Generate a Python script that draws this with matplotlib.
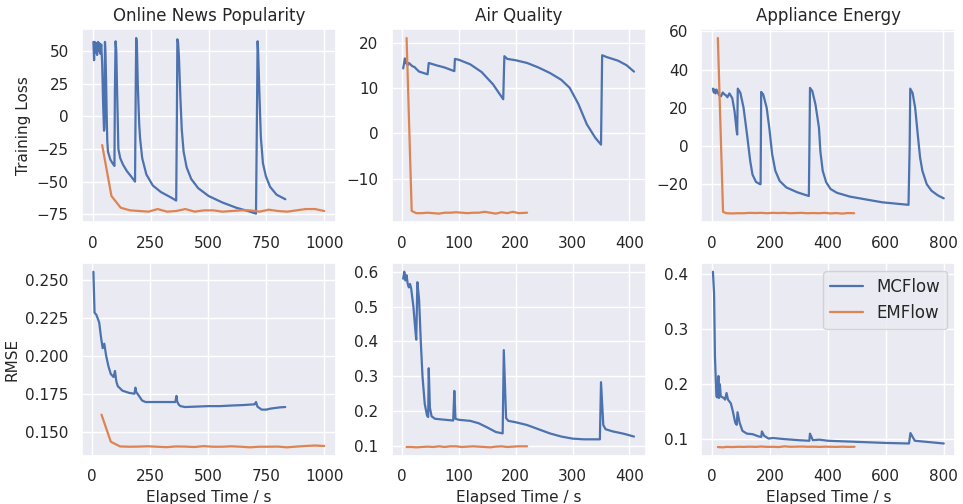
import matplotlib
matplotlib.use("Agg")
import matplotlib.pyplot as plt
import seaborn as sns

datasets = ["Online News Popularity", "Air Quality", "Appliance Energy"]
methods = ["MCFlow", "EMFlow"]

# ---- Online News Popularity ----
news_loss_mc_t = [2, 5, 8, 12, 15, 18, 22, 25, 28, 32, 36, 40, 44, 48, 50, 52, 54, 57, 59.5, 62, 65, 75,
                  85, 93, 95, 98, 101, 105, 110, 118, 130, 147, 165, 182, 185, 187, 190, 194, 200, 204,
                  213, 231, 259, 294, 336, 360, 363, 365, 368, 372, 378, 384, 392, 405, 425, 455, 500,
                  560, 620, 670, 705, 708, 712, 714, 720, 726, 735, 748, 766, 794, 832]
news_loss_mc_y = [57, 43, 57, 49, 56, 47, 57, 50, 56, 48, 55, 40, 10, -11, -8, 57, 50, 27, 1, -19, -27,
                  -33, -36, -38, 20, 57.5, 50, 15, -25, -32, -37, -42, -46, -50, 20, 60, 56, 24, -6, -17,
                  -32, -44.5, -53, -58, -62, -64.5, 0, 59, 57, 45, 15, -10, -27, -39, -48, -55, -61,
                  -66, -70, -72.5, -74.5, -20, 57.5, 51, 16, -16, -36, -46, -54, -60, -63.5]
news_loss_em_t = [40, 80, 120, 160, 200, 240, 280, 320, 360, 400, 440, 480, 520, 560, 600, 640, 680, 720,
                  760, 800, 840, 880, 920, 960, 1000]
news_loss_em_y = [-22, -61, -70, -72, -72.5, -73, -71, -73, -72.5, -71, -73, -72, -72, -73, -72.5, -72,
                  -72, -73, -71.5, -72.5, -73, -72, -71, -71, -72.5]

news_rmse_mc_t = [5, 10, 18, 30, 38, 45, 52, 60, 70, 80, 92, 98, 104, 110, 130, 160, 182, 186, 190, 195,
                  215, 230, 260, 300, 340, 358, 363, 366, 372, 380, 400, 450, 500, 550, 600, 650, 700,
                  706, 712, 730, 750, 770, 790, 810, 832]
news_rmse_mc_y = [0.2555, 0.2285, 0.227, 0.222, 0.212, 0.205, 0.208, 0.200, 0.193, 0.188, 0.186, 0.190,
                  0.183, 0.180, 0.177, 0.1755, 0.175, 0.179, 0.176, 0.175, 0.1705, 0.1695, 0.1695, 0.1695,
                  0.1695, 0.1695, 0.1735, 0.170, 0.168, 0.1668, 0.1662, 0.1665, 0.1668, 0.1668, 0.1672,
                  0.1675, 0.1680, 0.1695, 0.1665, 0.1645, 0.1645, 0.1652, 0.1656, 0.1660, 0.1662]
news_rmse_em_t = news_loss_em_t
news_rmse_em_y = [0.1612, 0.1433, 0.1402, 0.1400, 0.1401, 0.1403, 0.1400, 0.1397, 0.1402, 0.1401, 0.1398,
                  0.1404, 0.1400, 0.1400, 0.1403, 0.1400, 0.1396, 0.1400, 0.1400, 0.1401, 0.1396, 0.1401,
                  0.1405, 0.1408, 0.1405]

# ---- Air Quality ----
air_loss_mc_t = [2, 5, 7, 10, 12, 18, 22, 25, 30, 40, 45, 47, 60, 75, 92, 93, 100, 120, 140, 160, 178,
                 180, 185, 200, 220, 240, 260, 280, 295, 310, 325, 340, 350, 352, 360, 380, 395, 408]
air_loss_mc_y = [14.3, 16.5, 15.5, 15.0, 15.5, 14.8, 14.6, 14.2, 13.6, 13.2, 13.0, 15.5, 15.0, 14.5, 13.7,
                 16.4, 16.2, 15.2, 13.5, 10.8, 7.5, 17.0, 16.4, 16.1, 15.5, 14.5, 13.3, 11.8, 10.0, 6.5,
                 2.0, -1.0, -2.5, 17.2, 16.8, 16.0, 15.0, 13.6]
air_loss_em_t = [8, 17, 25, 35, 45, 55, 65, 75, 85, 95, 105, 115, 125, 135, 145, 155, 165, 175, 185, 195,
                 205, 220]
air_loss_em_y = [21.0, -17.1, -17.6, -17.6, -17.5, -17.6, -17.7, -17.5, -17.5, -17.4, -17.5, -17.6, -17.5,
                 -17.5, -17.3, -17.5, -17.7, -17.4, -17.6, -17.3, -17.6, -17.5]

air_rmse_mc_t = [2, 4, 6, 8, 10, 12, 14, 16, 20, 23, 25, 27, 30, 33, 36, 40, 44, 46, 47, 49, 52, 58, 70,
                 90, 92, 94, 100, 120, 135, 150, 165, 177, 179, 183, 187, 200, 220, 240, 260, 280, 300,
                 320, 348, 350, 354, 358, 370, 390, 408]
air_rmse_mc_y = [0.58, 0.60, 0.575, 0.59, 0.565, 0.555, 0.565, 0.553, 0.50, 0.44, 0.405, 0.57, 0.52, 0.40,
                 0.30, 0.22, 0.187, 0.183, 0.323, 0.21, 0.185, 0.178, 0.176, 0.173, 0.258, 0.178, 0.175,
                 0.172, 0.165, 0.153, 0.140, 0.136, 0.375, 0.18, 0.172, 0.168, 0.160, 0.148, 0.136, 0.127,
                 0.121, 0.119, 0.119, 0.283, 0.160, 0.148, 0.142, 0.135, 0.127]
air_rmse_em_t = air_loss_em_t
air_rmse_em_y = [0.097, 0.097, 0.096, 0.097, 0.098, 0.097, 0.099, 0.097, 0.099, 0.099, 0.097, 0.098, 0.099,
                 0.098, 0.097, 0.096, 0.098, 0.099, 0.097, 0.098, 0.099, 0.099]

# ---- Appliance Energy ----
app_loss_mc_t = [3, 6, 8.5, 12, 15, 20, 25, 31, 37, 43, 48, 53, 60, 70, 78, 85, 87, 89, 98, 109, 121,
                 132, 140, 152, 166, 168, 170, 177, 189, 198, 208, 219, 234, 257, 296, 335, 337, 339, 347,
                 358, 370, 375, 383, 395, 410, 432, 477, 533, 590, 680, 684, 686, 694, 703, 712, 720,
                 728, 743, 760, 783, 802]
app_loss_mc_y = [30, 28, 29.5, 27.5, 29.5, 28, 26.5, 26, 28, 27, 26.5, 25.5, 27.5, 25, 18, 8, 6, 30, 27.8,
                 20, 6, -7.8, -15, -18.8, -20, -20, 28.3, 27, 20, 9.6, -4.3, -13, -18.3, -21.7, -24.3,
                 -26.2, 0, 30.4, 28.7, 21.7, 9.6, -3, -13, -19, -22.5, -24.5, -26.5, -28, -29.5, -30.8,
                 0, 30, 27.8, 20, 6, -6, -13, -20, -23.5, -26, -27.4]
app_loss_em_t = [20, 38, 50, 70, 90, 110, 130, 150, 170, 190, 210, 230, 250, 270, 290, 310, 330, 350,
                 370, 390, 410, 430, 450, 470, 492]
app_loss_em_y = [56.5, -34.5, -35.2, -35.3, -35.2, -35.2, -35.0, -35.1, -35.0, -35.2, -35.0, -35.1, -35.0,
                 -35.2, -35.1, -35.0, -35.2, -35.1, -35.2, -35.0, -35.3, -35.1, -35.4, -35.1, -35.2]

app_rmse_mc_t = [3, 7, 10, 15, 18, 22, 24, 27, 30, 40, 45, 50, 55, 65, 72, 80, 85, 88, 95, 105, 120,
                 140, 160, 170, 172, 180, 195, 210, 250, 300, 336, 338, 348, 370, 400, 500, 600, 680,
                 685, 700, 720, 760, 800]
app_rmse_mc_y = [0.405, 0.365, 0.25, 0.178, 0.176, 0.215, 0.175, 0.20, 0.178, 0.175, 0.172, 0.184, 0.172,
                 0.165, 0.150, 0.130, 0.126, 0.149, 0.130, 0.115, 0.110, 0.109, 0.105, 0.104, 0.114,
                 0.106, 0.101, 0.102, 0.100, 0.098, 0.097, 0.110, 0.098, 0.099, 0.097, 0.095, 0.093,
                 0.092, 0.111, 0.097, 0.096, 0.094, 0.092]
app_rmse_em_t = app_loss_em_t
app_rmse_em_y = [0.0855, 0.085, 0.0858, 0.0855, 0.086, 0.0858, 0.0862, 0.0858, 0.0865, 0.0858, 0.086,
                 0.0855, 0.0868, 0.086, 0.0862, 0.0865, 0.086, 0.0862, 0.0858, 0.0862, 0.086, 0.0858,
                 0.0862, 0.0858, 0.086]

loss_series = [
    ((news_loss_mc_t, news_loss_mc_y), (news_loss_em_t, news_loss_em_y)),
    ((air_loss_mc_t, air_loss_mc_y), (air_loss_em_t, air_loss_em_y)),
    ((app_loss_mc_t, app_loss_mc_y), (app_loss_em_t, app_loss_em_y)),
]
rmse_series = [
    ((news_rmse_mc_t, news_rmse_mc_y), (news_rmse_em_t, news_rmse_em_y)),
    ((air_rmse_mc_t, air_rmse_mc_y), (air_rmse_em_t, air_rmse_em_y)),
    ((app_rmse_mc_t, app_rmse_mc_y), (app_rmse_em_t, app_rmse_em_y)),
]

sns.set_theme(style="darkgrid")
colors = sns.color_palette("deep")[:2]

fig, axes = plt.subplots(2, 3, figsize=(9.63, 5.04), dpi=100)
fig.subplots_adjust(left=0.085, right=0.992, top=0.942, bottom=0.095, wspace=0.22, hspace=0.21)

for col in range(3):
    ax_top, ax_bot = axes[0, col], axes[1, col]
    for (t, y), name, c in zip(loss_series[col], methods, colors):
        ax_top.plot(t, y, color=c, lw=1.6, label=name)
    for (t, y), name, c in zip(rmse_series[col], methods, colors):
        ax_bot.plot(t, y, color=c, lw=1.6, label=name)
    ax_top.set_title(datasets[col], fontsize=12)
    ax_bot.set_xlabel("Elapsed Time / s", fontsize=11)
    for ax in (ax_top, ax_bot):
        ax.tick_params(labelsize=11)

axes[0, 0].set_ylabel("Training Loss", fontsize=11)
axes[1, 0].set_ylabel("RMSE", fontsize=11)
axes[0, 0].set_xticks([0, 250, 500, 750, 1000])
axes[1, 0].set_xticks([0, 250, 500, 750, 1000])
axes[1, 2].legend(loc="upper right", fontsize=12)

plt.savefig("out.png", dpi=100)
